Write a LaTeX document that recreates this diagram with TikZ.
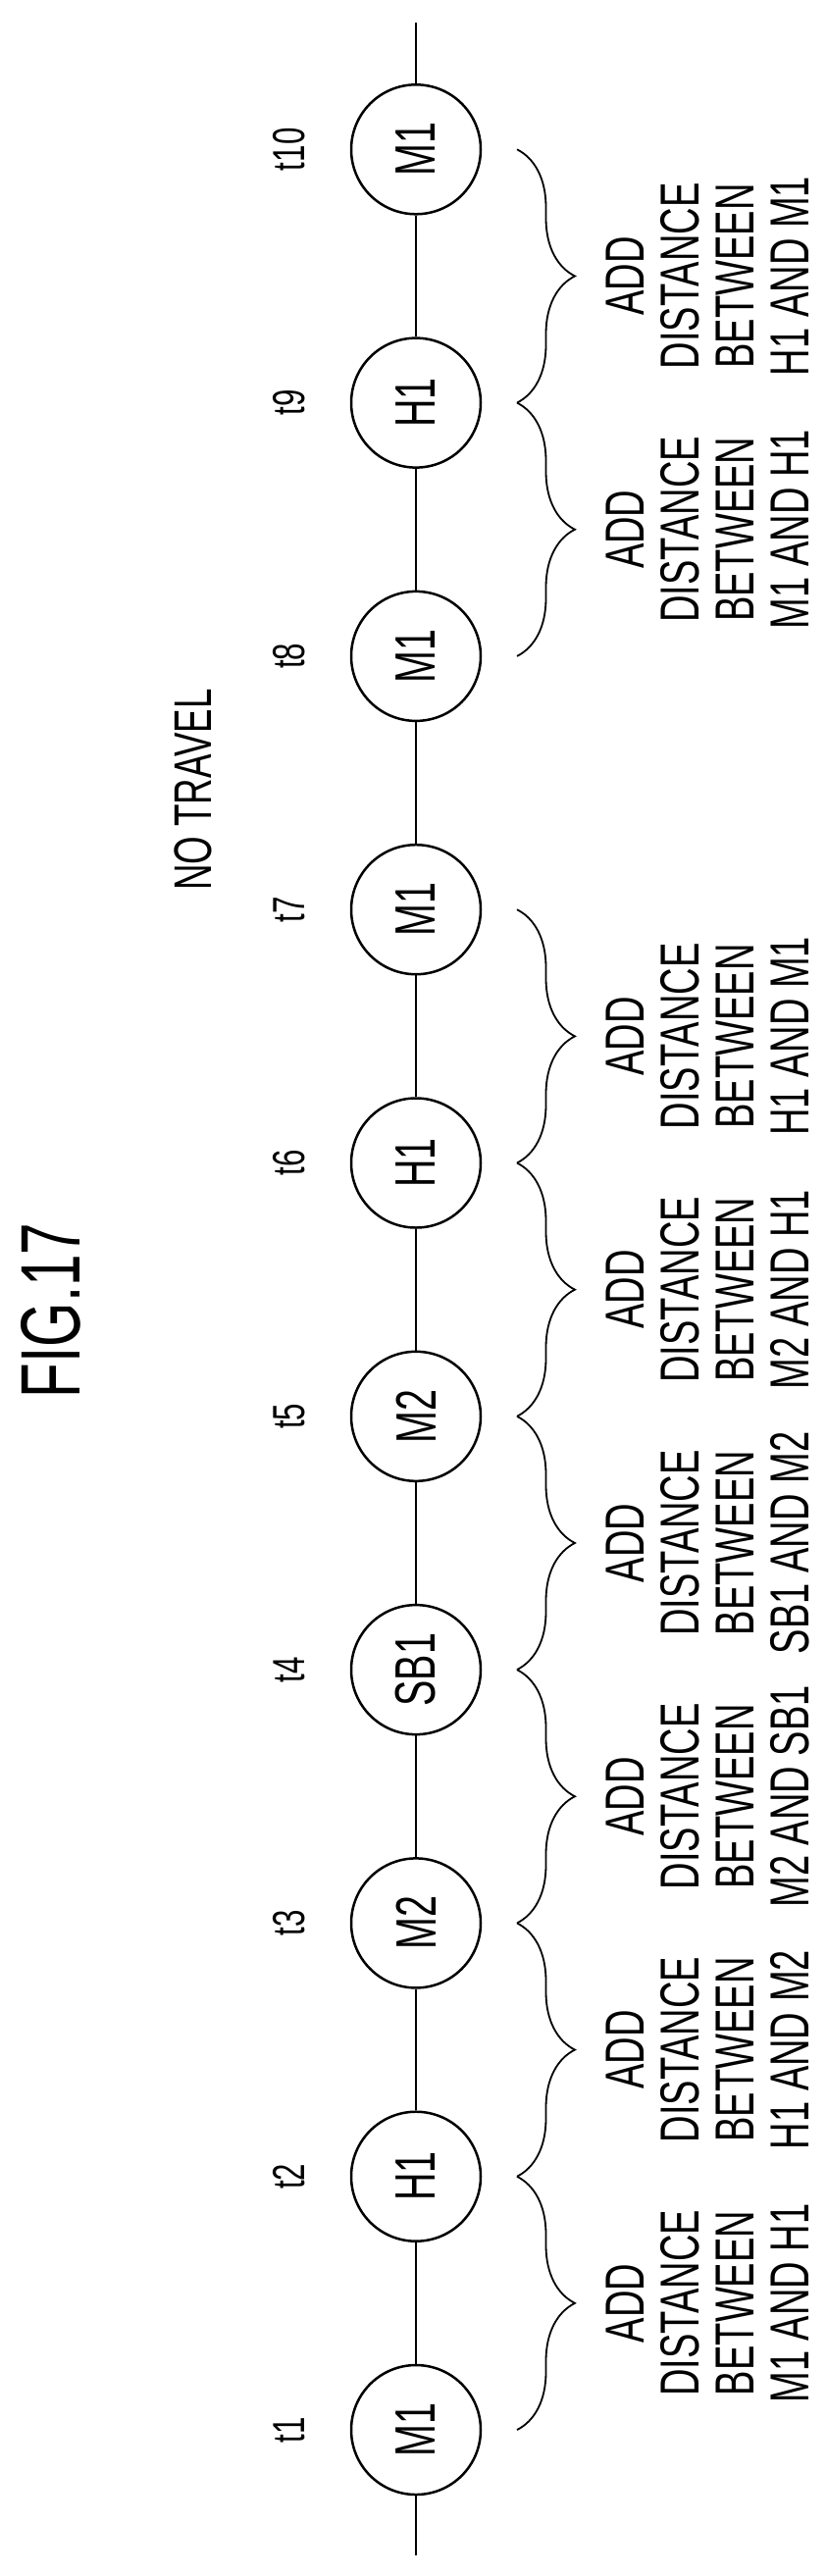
\documentclass[tikz,border=0pt]{standalone}
\usepackage{fontspec}
\setmainfont{Liberation Sans}
\newfontfamily\narrowsf[FakeStretch=0.68]{Liberation Sans}
\usetikzlibrary{decorations.pathreplacing}

\begin{document}
\begin{tikzpicture}[x=1pt,y=-1pt,line width=2.5pt]

\tikzset{state/.style={circle,draw,minimum size=132pt,inner sep=0pt,rotate=90,font=\narrowsf\fontsize{58}{58}\selectfont},
         tick/.style={rotate=90,font=\narrowsf\fontsize{46}{46}\selectfont},
         note/.style={rotate=90,align=center,font=\narrowsf\fontsize{56}{56}\selectfont},
         grp/.style={decorate,decoration={brace,amplitude=59pt},line width=1.8pt}}

\useasboundingbox (0,0) rectangle (843,2626);

\node[rotate=90,font=\narrowsf\fontsize{86}{86}\selectfont] (fig) at (52,1336) {FIG.17};
\node[rotate=90,font=\narrowsf\fontsize{54}{54}\selectfont] (notravel) at (197,805) {NO TRAVEL};

\coordinate (top) at (424,23);
\coordinate (bot) at (424,2605);

% states from t1 (bottom) to t10 (top)
\foreach \i/\s in {1/M1,2/H1,3/M2,4/SB1,5/M2,6/H1,7/M1,8/M1,9/H1,10/M1} {
  \node[state] (s\i) at (424,{2477-258.3*(\i-1)}) {\s};
  \node[tick]  (t\i) at (295,{2477-258.3*(\i-1)}) {t\i};
}

\draw (bot) -- (s1);
\foreach \i [evaluate=\i as \j using int(\i+1)] in {1,...,9}
  \draw (s\i) -- (s\j);
\draw (s10) -- (top);

% braces and notes
\foreach \i/\a/\b in {1/M1/H1,2/H1/M2,3/M2/SB1,4/SB1/M2,5/M2/H1,6/H1/M1,8/M1/H1,9/H1/M1} {
  \pgfmathtruncatemacro\j{\i+1}
  \coordinate (b\i) at (527,{2477-258.3*\j+258.3});
  \coordinate (e\i) at (527,{2477-258.3*(\i-1)});
  \draw[grp] (b\i) -- (e\i);
  \node[note] (n\i) at (721,{2477-258.3*(\i-0.5)}) {ADD\\DISTANCE\\BETWEEN\\\a{} AND \b};
}

\end{tikzpicture}
\end{document}
